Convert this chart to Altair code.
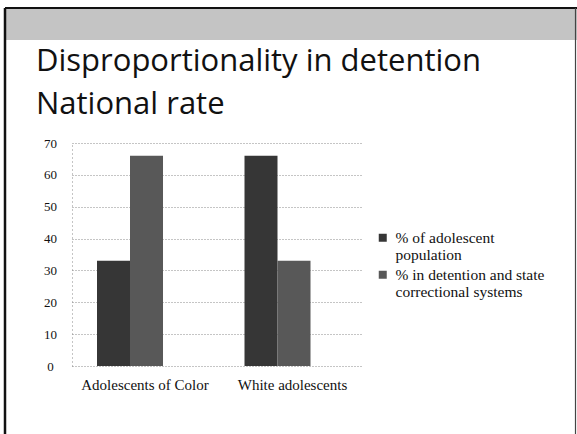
import altair as alt
import pandas as pd

categories = ["Adolescents of Color", "White adolescents"]
series = ["% of adolescent population", "% in detention and state correctional systems"]
pct_population = [33, 66]
pct_detention = [66, 33]
title_lines = ["Disproportionality in detention", "National rate"]

rows = []
for i, c in enumerate(categories):
    rows.append({"category": c, "series": series[0], "value": pct_population[i]})
    rows.append({"category": c, "series": series[1], "value": pct_detention[i]})
df = pd.DataFrame(rows)

W, H = 291, 223
L, T = 72, 143
SERIF = "Liberation Serif"

bars = alt.Chart(df).mark_bar().encode(
    x=alt.X("category:N", sort=categories, title=None,
            scale=alt.Scale(paddingInner=0.5525, paddingOuter=0.2627, align=0.3226),
            axis=alt.Axis(labelAngle=0, domain=False, ticks=False, grid=False,
                          labelFont=SERIF, labelFontSize=15,
                          labelColor="#111", labelPadding=11, labelOffset=15)),
    xOffset=alt.XOffset("series:N", sort=series,
                        scale=alt.Scale(paddingInner=0, paddingOuter=0)),
    y=alt.Y("value:Q", title=None,
            scale=alt.Scale(domain=[0, 70], nice=False),
            axis=alt.Axis(values=[0, 10, 20, 30, 40, 50, 60, 70],
                          grid=True, gridDash=[1, 2], gridColor="#8a8a8a", gridWidth=1,
                          domain=True, domainDash=[1, 3], domainColor="#8a8a8a",
                          ticks=False, tickSize=0, labelPadding=22, labelAlign="center",
                          labelFont=SERIF, labelFontSize=13,
                          labelColor="#111")),
    color=alt.Color("series:N", sort=series,
                    scale=alt.Scale(domain=series, range=["#363636", "#585858"]),
                    legend=alt.Legend(title=None, orient="none", legendX=303, legendY=87,
                                      symbolType="square", symbolSize=64,
                                      labelFont=SERIF, labelFontSize=15.5, labelOffset=5,
                                      labelColor="#111", labelLimit=250, rowPadding=3,
                                      labelExpr="datum.label == '% of adolescent population' ? ['% of adolescent', 'population'] : ['% in detention and state', 'correctional systems']")),
)

def title_line(txt, base_y):
    return alt.Chart(pd.DataFrame({"line": [txt]})).mark_text(
        align="left", baseline="alphabetic", font="Open Sans", fontSize=31, color="#111"
    ).encode(text="line:N", x=alt.value(36 - L), y=alt.value(base_y - T))

t1 = title_line(title_lines[0], 71)
t2 = title_line(title_lines[1], 114)

one = pd.DataFrame({"a": [0]})
band = alt.Chart(one).mark_rect(color="#c4c4c4").encode(
    x=alt.value(5 - L), x2=alt.value(577 - L), y=alt.value(9 - T), y2=alt.value(40 - T)
)
left_border = alt.Chart(one).mark_rule(color="#111", strokeWidth=2.5).encode(
    x=alt.value(5 - L), y=alt.value(8 - T), y2=alt.value(434 - T)
)
top_border = alt.Chart(one).mark_rule(color="#111", strokeWidth=2).encode(
    x=alt.value(5 - L), x2=alt.value(577 - L), y=alt.value(8 - T)
)
right_border = alt.Chart(one).mark_rule(color="#444", strokeWidth=1.2).encode(
    x=alt.value(575.5 - L), y=alt.value(8 - T), y2=alt.value(434 - T)
)

chart = alt.layer(band, left_border, top_border, right_border, bars, t1, t2).properties(
    width=W, height=H,
    autosize=alt.AutoSizeParams(type="none"),
    padding={"left": L, "top": T, "right": 577 - L - W, "bottom": 434 - T - H},
    background="white",
).configure_view(stroke=None)

chart.save("out.html", embed_options={"renderer": "svg", "actions": False})
